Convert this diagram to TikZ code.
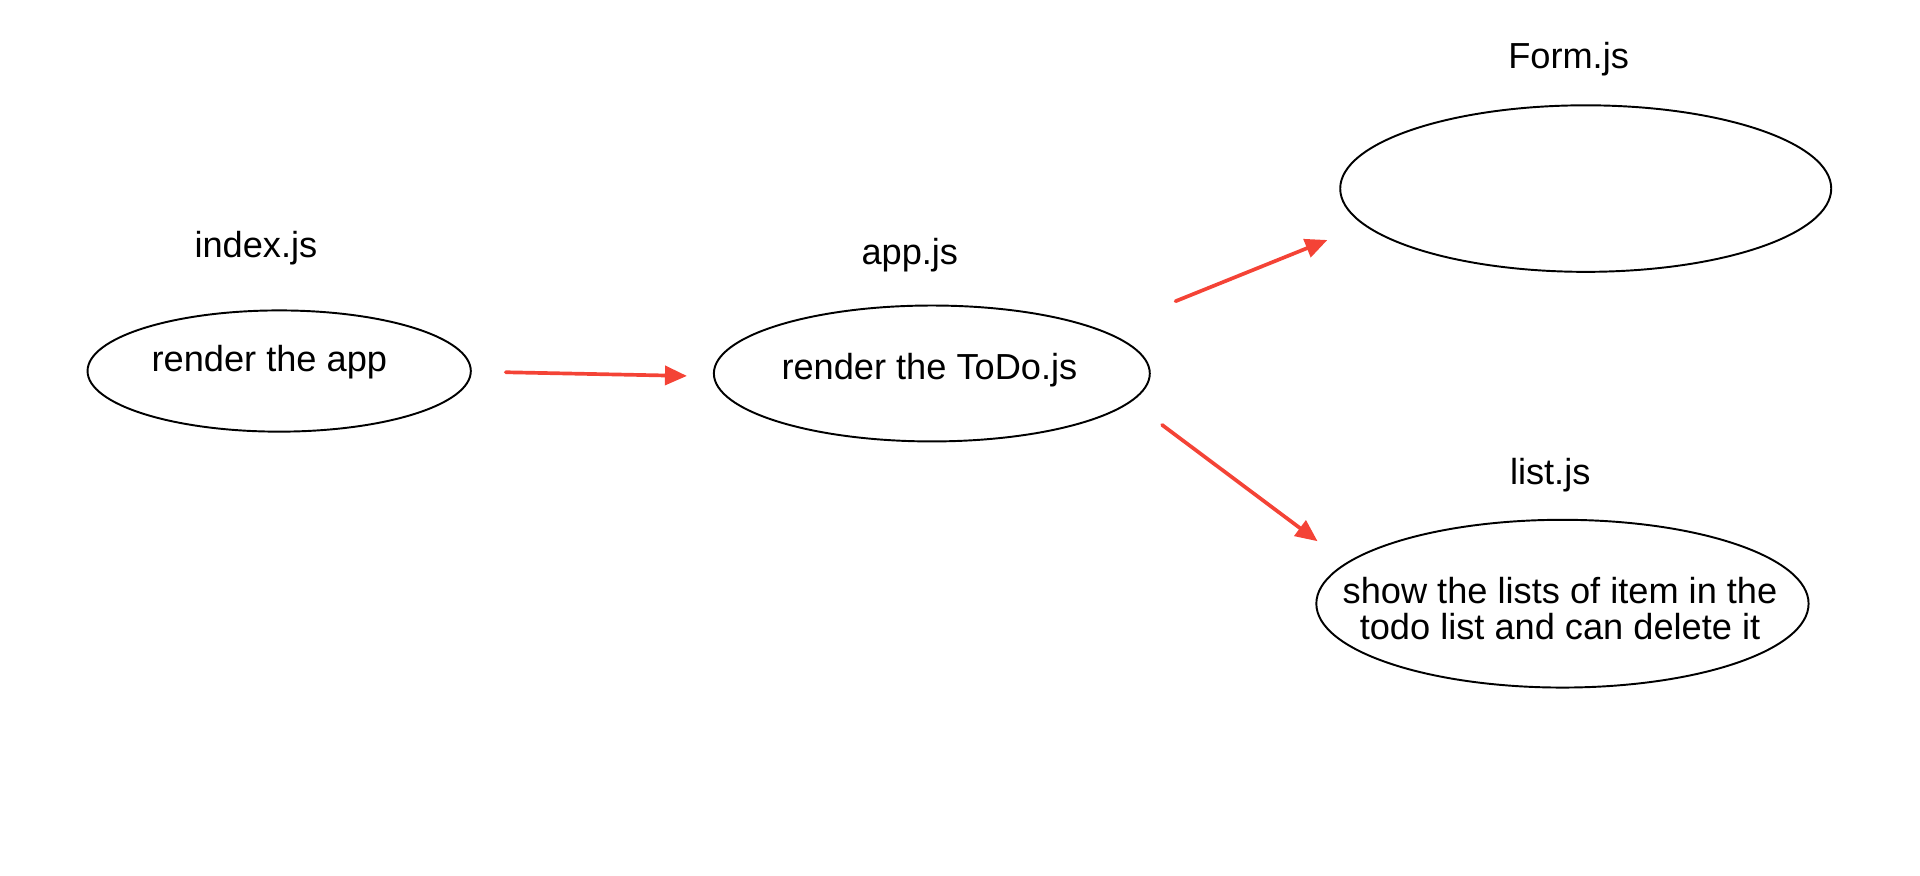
\documentclass[tikz,border=0pt]{standalone}
\usepackage{fontspec}
\setmainfont{Liberation Sans}
\usepackage{xcolor}
\definecolor{rot_arrow}{RGB}{244,67,54}
\usepackage{tikz}
\usetikzlibrary{arrows.meta}
\usetikzlibrary{shapes.geometric}

\begin{document}
\begin{tikzpicture}[x=0.02449cm, y=-0.02449cm, font=\fontsize{20.6}{21}\selectfont,
  bubble/.style={ellipse, draw, line width=1.1pt, inner sep=0pt, align=center},
  flow/.style={rot_arrow, line width=2.1pt, line cap=round, -{Triangle[length=4.4mm, width=3.8mm]}}]
\useasboundingbox (0,0) rectangle (1568,714.6);
% ---
\node (IDXlabel) at (209,203) {index.js};
\node[bubble, minimum width=313*0.02449cm, minimum height=99*0.02449cm] (IDX) at (228,303) {};
\node (IDXtext) at (220,296) {render the app};
% ---
\node (APPlabel) at (743,208) {app.js};
\node[bubble, minimum width=356*0.02449cm, minimum height=111*0.02449cm] (APP) at (761,305) {};
\node (APPtext) at (759,302) {render the ToDo.js};
% ---
\node (FRMlabel) at (1281,48) {Form.js};
\node[bubble, minimum width=401*0.02449cm, minimum height=136*0.02449cm] (FRM) at (1295,154) {};
% ---
\node (LSTlabel) at (1266,388) {list.js};
\node[bubble, minimum width=402*0.02449cm, minimum height=137*0.02449cm] (LST) at (1276,493) {};
\node[align=center] (LSTtext) at (1274,497) {show the lists of item in the\\todo list and can delete it};
% ---
\coordinate (A1s) at (413,304);
\coordinate (A1e) at (561,307);
\coordinate (A2s) at (960,246);
\coordinate (A2e) at (1084,196);
\coordinate (A3s) at (949,347);
\coordinate (A3e) at (1076,442);
\draw[flow] (A1s) -- (A1e);
\draw[flow] (A2s) -- (A2e);
\draw[flow] (A3s) -- (A3e);
\end{tikzpicture}
\end{document}
